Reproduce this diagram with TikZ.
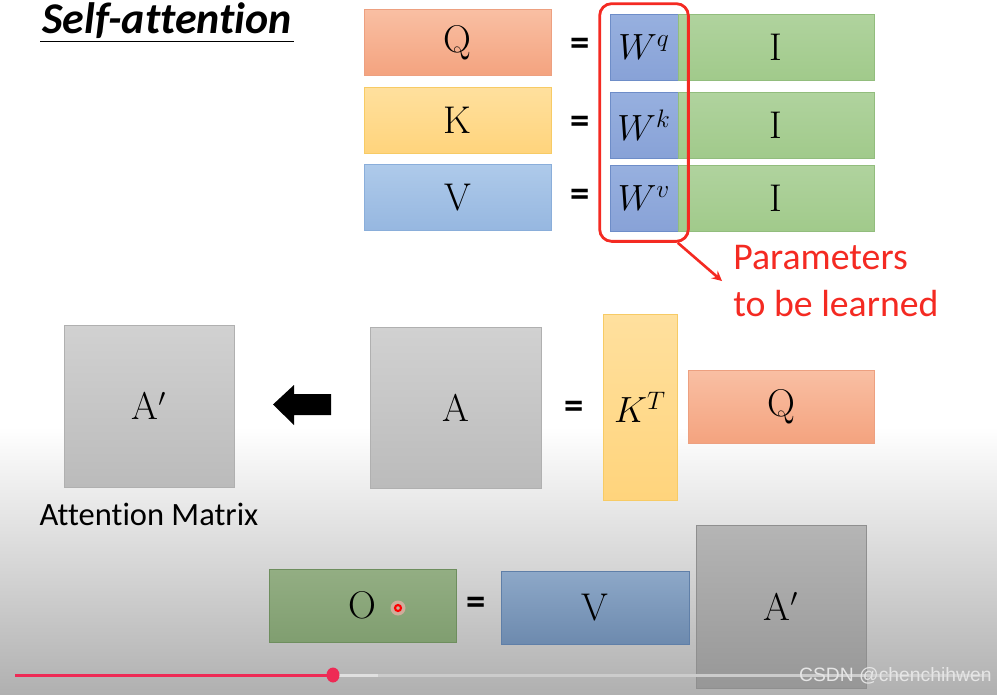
\documentclass[tikz,border=0pt]{standalone}
\usepackage{fontspec}
\setsansfont{Carlito}[Ligatures=NoCommon]
\newfontfamily\wmfont{Liberation Sans}
\usetikzlibrary{arrows,shapes,calc,positioning,fit}
\definecolor{qtop}{HTML}{F9BFA3}
\definecolor{qbot}{HTML}{F4A37F}
\definecolor{qline}{HTML}{EDA080}
\definecolor{ktop}{HTML}{FFE09E}
\definecolor{kbot}{HTML}{FFD47C}
\definecolor{kline}{HTML}{F7CB65}
\definecolor{vtop}{HTML}{AECAEA}
\definecolor{vbot}{HTML}{96B7E0}
\definecolor{vline}{HTML}{8AAEDA}
\definecolor{wtop}{HTML}{97B0DF}
\definecolor{wbot}{HTML}{88A2D7}
\definecolor{wline}{HTML}{6E8DC8}
\definecolor{itop}{HTML}{B0D39E}
\definecolor{ibot}{HTML}{A1CA8B}
\definecolor{iline}{HTML}{92BD7D}
\definecolor{gtop}{HTML}{D1D1D1}
\definecolor{gbot}{HTML}{BBBBBB}
\definecolor{gline}{HTML}{B0B0B0}
\definecolor{otop}{HTML}{93AE83}
\definecolor{obot}{HTML}{809E70}
\definecolor{oline}{HTML}{6E8E5E}
\definecolor{vvtop}{HTML}{8DA8C8}
\definecolor{vvbot}{HTML}{6D8AAE}
\definecolor{vvline}{HTML}{5F7FA8}
\definecolor{ggtop}{HTML}{B5B5B5}
\definecolor{ggbot}{HTML}{979797}
\definecolor{ggline}{HTML}{8F8F8F}
\definecolor{pred}{HTML}{F42A22}
\definecolor{barred}{HTML}{EE2A55}
\tikzstyle{mat}=[draw, inner sep=0pt, font=\fontsize{22}{26}\selectfont]
\tikzstyle{qmat}=[mat, top color=qtop, bottom color=qbot, draw=qline]
\tikzstyle{kmat}=[mat, top color=ktop, bottom color=kbot, draw=kline]
\tikzstyle{vmat}=[mat, top color=vtop, bottom color=vbot, draw=vline]
\tikzstyle{wmat}=[mat, top color=wtop, bottom color=wbot, draw=wline]
\tikzstyle{imat}=[mat, top color=itop, bottom color=ibot, draw=iline]
\tikzstyle{gmat}=[mat, top color=gtop, bottom color=gbot, draw=gline]
\tikzstyle{omat}=[mat, top color=otop, bottom color=obot, draw=oline]
\tikzstyle{vvmat}=[mat, top color=vvtop, bottom color=vvbot, draw=vvline]
\tikzstyle{ggmat}=[mat, top color=ggtop, bottom color=ggbot, draw=ggline]
\tikzstyle{eq}=[inner sep=0pt, font=\sffamily\bfseries\fontsize{22}{24}\selectfont]
\tikzstyle{param}=[draw=pred, line width=1.6pt, rounded corners=0.24cm, inner sep=0.2cm]
\tikzstyle{note}=[inner sep=0pt, text=pred, align=left, font=\sffamily\fontsize{21.5}{26.2}\selectfont]
\tikzstyle{caption}=[inner sep=0pt, font=\sffamily\fontsize{18.5}{22}\selectfont]
\tikzstyle{wmark}=[inner sep=0pt, text=white!90!black, font=\wmfont\fontsize{11}{13}\selectfont]

\begin{document}
\begin{tikzpicture}[x=0.02cm,y=-0.02cm]
\useasboundingbox (0,0) rectangle (997,694);
\shade[top color=white, bottom color=black!31] (0,427) rectangle (997,694);
\node[inner sep=1pt, font=\sffamily\bfseries\itshape\fontsize{25}{30}\selectfont] (title) at (167,21) {Self-attention};
\draw[semithick] (title.south west) -- (title.south east);
        \foreach \n/\s/\y/\w/\yy in {Q/qmat/42.5/q/47, K/kmat/120/k/125, V/vmat/197.5/v/198}{
          \node[\s, minimum width=3.74cm, minimum height=1.32cm] (\n) at (457.5,\y) {\n};
          \node[eq] (eq\w) at (580,\yy) {=};
          \node[wmat, minimum width=1.36cm, minimum height=1.32cm] (W\w) at (644,\yy) {$W^{\w}$};
          \node[imat, minimum width=3.92cm, minimum height=1.32cm] (I\w) at (776,\yy) {I};
        }
        \node[param, fit=(Wq)(Wv)] (params) {};
        \node[note, anchor=west] (learn) at (733,281) {Parameters\\to be learned};
        \draw[pred, line width=1.5pt, -stealth] ([xshift=-0.24cm]params.south east) -- ([xshift=-0.22cm]learn.west);
        % attention matrix
        \node[gmat, minimum width=3.4cm, minimum height=3.24cm] (Ap) at (149,406) {A$'$};
        \node[caption, below=0.3cm of Ap] (cap) {Attention Matrix};
        \fill (331,394) -- (294,394) -- (294,385) -- (273,404.5) -- (294,425) -- (294,415) -- (331,415) -- cycle;
        \node[gmat, minimum width=3.42cm, minimum height=3.22cm] (A) at (455.5,407.5) {A};
        \node[eq] (eqa) at (574,410) {=};
        \node[kmat, minimum width=1.48cm, minimum height=3.72cm] (KT) at (640,407) {$K^T$};
        \node[qmat, minimum width=3.72cm, minimum height=1.46cm] (Q2) at (781,406.5) {Q};
        % output
        \node[omat, minimum width=3.74cm, minimum height=1.46cm] (O) at (362.5,605.5) {O};
        \fill[red!30, opacity=0.6] (398,608) circle (0.15cm);
        \draw[red, line width=1.2pt] (398,608) circle (0.06cm);
        \node[eq] (eqo) at (476,606) {=};
        \node[vvmat, minimum width=3.76cm, minimum height=1.46cm] (V2) at (595,607.5) {V};
        \node[ggmat, minimum width=3.4cm, minimum height=3.26cm] (Ap2) at (781,606.5) {A$'$};
        % player bar
        \draw[line width=0.06cm, white!80!black] (333,675) -- (990,675);
        \draw[line width=0.06cm, white!88!black] (333,675) -- (378,675);
        \draw[line width=0.06cm, barred] (15,675) -- (333,675);
        \fill[barred] (333,675) ellipse (0.13cm and 0.15cm);
        \node[wmark, anchor=east] (wm) at (992,676) {CSDN @chenchihwen};
      \end{tikzpicture}
\end{document}
